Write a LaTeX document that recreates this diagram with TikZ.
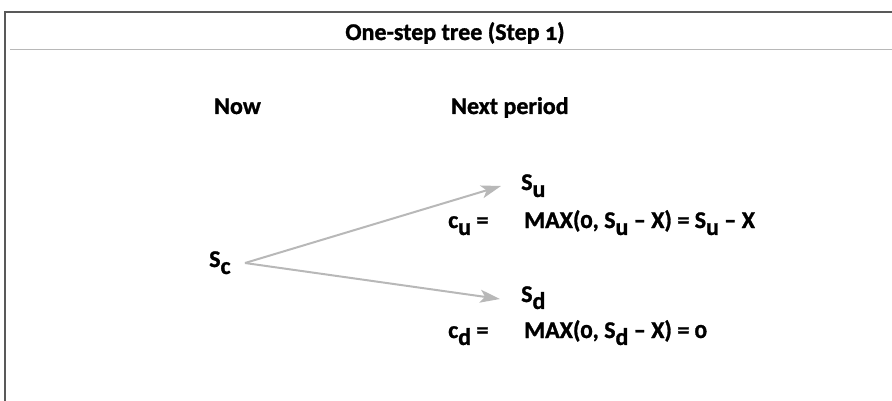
\documentclass[tikz,border=0pt]{standalone}
\usepackage{fontspec}
\setmainfont{Carlito}[Numbers=OldStyle,BoldFeatures={FakeBold=1.2}]
\usetikzlibrary{arrows.meta,positioning}
\newcommand{\lowr}[1]{\raisebox{-0.29em}{#1}}

\begin{document}
\begin{tikzpicture}[x=1pt,y=-1pt,
  every node/.style={font=\fontsize{24}{26}\selectfont\bfseries,inner sep=0pt},
  txt/.style={anchor=base west},
  branch/.style={draw=black!28,line width=2pt,-{Stealth[length=20pt,width=13pt,inset=5pt]}}]
  \useasboundingbox (0,0) rectangle (892,401);
  % frame and title bar
  \draw[black!65,line width=1.2pt] (5,401) -- (5,12) -- (892,12);
  \draw[black!28,line width=1pt] (10,50) -- (892,50);
  \node[anchor=base] (title) at (455,40) {One-step tree (Step 1)};
  % column heads
  \node[txt] (now)  at (214,114) {Now};
  \node[txt] (next) at (451,114) {Next period};
  % tree
  \node[txt] (sc) at (209,267) {S\lowr{c}};
  \coordinate (root) at (245,263);
  \coordinate (up)   at (501,186);
  \coordinate (down) at (500,299);
  \node[txt] (su) at (521,190) {S\lowr{u}};
  \node[txt] (cu) at (448,228) {c\lowr{u} =};
  \node[txt] (payu) at (524,228) {MAX(0, S\lowr{u} -- X) = S\lowr{u} -- X};
  \node[txt] (sd) at (521,302) {S\lowr{d}};
  \node[txt] (cd) at (448,338) {c\lowr{d} =};
  \node[txt] (payd) at (524,338) {MAX(0, S\lowr{d} -- X) = 0};
  \path (root) edge[branch] (up)
               edge[branch] (down);
\end{tikzpicture}
\end{document}
